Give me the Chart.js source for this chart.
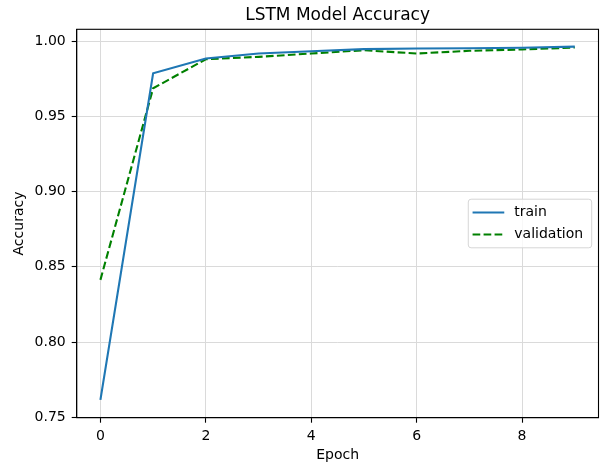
<!DOCTYPE html>
<html>
<head>
<meta charset="utf-8">
<script src="https://cdn.jsdelivr.net/npm/chart.js@4.4.1/dist/chart.umd.min.js"></script>
<style>
  html, body { margin: 0; padding: 0; background: #ffffff; }
  #wrap { width: 603px; height: 466px; }
</style>
</head>
<body>
<div id="wrap"><canvas id="c" width="603" height="466"></canvas></div>
<script>
// ---- data ----
const chartTitle = "LSTM Model Accuracy";
const xAxisTitle = "Epoch";
const yAxisTitle = "Accuracy";
const epochs = [0, 1, 2, 3, 4, 5, 6, 7, 8, 9];
const trainAcc = [0.7616, 0.9786, 0.9884, 0.9917, 0.9932, 0.9946, 0.9950, 0.9952, 0.9955, 0.9963];
const valAcc   = [0.8413, 0.9686, 0.9879, 0.9895, 0.9917, 0.9939, 0.9917, 0.9935, 0.9944, 0.9957];
const xTicks = [0, 2, 4, 6, 8];
const yTicks = [0.75, 0.80, 0.85, 0.90, 0.95, 1.00];
const seriesNames = ["train", "validation"];

const FONT = "'DejaVu Sans', sans-serif";

const toPoints = (xs, ys) => xs.map((x, i) => ({ x: x, y: ys[i] }));

// matplotlib-like frame (top/right spines)
const framePlugin = {
  id: 'frame',
  afterDatasetsDraw(chart) {
    const a = chart.chartArea, ctx = chart.ctx;
    ctx.save();
    ctx.strokeStyle = '#000';
    ctx.lineWidth = 1.1;
    ctx.strokeRect(a.left, a.top, a.right - a.left, a.bottom - a.top);
    ctx.restore();
  }
};

// matplotlib-like legend box inside the axes (center right)
const boxLegendPlugin = {
  id: 'boxLegend',
  afterDraw(chart) {
    const a = chart.chartArea, ctx = chart.ctx;
    const ds = chart.data.datasets;
    ctx.save();
    ctx.font = "14px " + FONT;
    let maxW = 0;
    ds.forEach(d => { maxW = Math.max(maxW, ctx.measureText(d.label).width); });
    const padL = 4.3, lineLen = 31.7, gap = 10.0, padR = 8.5;
    const rowH = 22.0, padV = 13.3;
    const w = padL + lineLen + gap + maxW + padR;
    const h = padV * 2 + rowH * (ds.length - 1);
    const right = a.right - 6.8;
    const left = right - w;
    const cy = (a.top + a.bottom) / 2;
    const top = cy - h / 2;
    // frame
    const r = 2.8;
    ctx.beginPath();
    ctx.moveTo(left + r, top);
    ctx.lineTo(left + w - r, top);
    ctx.arcTo(left + w, top, left + w, top + r, r);
    ctx.lineTo(left + w, top + h - r);
    ctx.arcTo(left + w, top + h, left + w - r, top + h, r);
    ctx.lineTo(left + r, top + h);
    ctx.arcTo(left, top + h, left, top + h - r, r);
    ctx.lineTo(left, top + r);
    ctx.arcTo(left, top, left + r, top, r);
    ctx.closePath();
    ctx.fillStyle = 'rgba(255,255,255,0.8)';
    ctx.fill();
    ctx.strokeStyle = '#d6d6d6';
    ctx.lineWidth = 1;
    ctx.stroke();
    // entries
    ds.forEach((d, i) => {
      const y = top + padV + i * rowH;
      ctx.beginPath();
      ctx.setLineDash(d.borderDash || []);
      ctx.strokeStyle = d.borderColor;
      ctx.lineWidth = d.borderWidth;
      ctx.moveTo(left + padL, y);
      ctx.lineTo(left + padL + lineLen, y);
      ctx.stroke();
      ctx.setLineDash([]);
      ctx.fillStyle = '#000';
      ctx.textBaseline = 'middle';
      ctx.textAlign = 'left';
      ctx.fillText(d.label, left + padL + lineLen + gap, y);
    });
    ctx.restore();
  }
};

new Chart(document.getElementById('c'), {
  type: 'line',
  data: {
    datasets: [
      {
        label: seriesNames[0],
        data: toPoints(epochs, trainAcc),
        borderColor: '#1f77b4',
        backgroundColor: '#1f77b4',
        borderWidth: 2.1,
        pointRadius: 0,
        tension: 0,
        fill: false
      },
      {
        label: seriesNames[1],
        data: toPoints(epochs, valAcc),
        borderColor: '#008000',
        backgroundColor: '#008000',
        borderWidth: 2.1,
        borderDash: [7.7, 3.3],
        pointRadius: 0,
        tension: 0,
        fill: false
      }
    ]
  },
  options: {
    responsive: false,
    animation: false,
    devicePixelRatio: 1,
    layout: { padding: { left: 0, right: 4.5, top: 0, bottom: 0 } },
    plugins: {
      legend: { display: false },
      tooltip: { enabled: false },
      title: {
        display: true,
        text: chartTitle,
        fullSize: false,
        color: '#000',
        font: { family: FONT, size: 17, weight: 'normal', lineHeight: 1.2 },
        padding: { top: 4.9, bottom: 4.0 }
      }
    },
    scales: {
      x: {
        type: 'linear',
        min: -0.45,
        max: 9.45,
        afterBuildTicks: (s) => { s.ticks = xTicks.map(v => ({ value: v })); },
        afterFit: (s) => { s.height = 48.3; },
        ticks: {
          color: '#000',
          font: { family: FONT, size: 14 },
          padding: 5.5,
          maxRotation: 0,
          callback: (v) => String(v)
        },
        grid: {
          color: '#dadada',
          lineWidth: 1,
          drawTicks: true,
          tickLength: 5,
          tickColor: '#000',
          tickWidth: 1.1
        },
        border: { display: true, color: '#000', width: 1.1 },
        title: {
          display: true,
          text: xAxisTitle,
          color: '#000',
          font: { family: FONT, size: 14, lineHeight: 1.2 },
          padding: { top: 2.0, bottom: 2.0 }
        }
      },
      y: {
        type: 'linear',
        min: 0.7497,
        max: 1.0078,
        afterBuildTicks: (s) => { s.ticks = yTicks.map(v => ({ value: v })); },
        afterFit: (s) => { s.width = 76.7; },
        ticks: {
          color: '#000',
          font: { family: FONT, size: 14 },
          padding: 6,
          callback: (v) => Number(v).toFixed(2)
        },
        grid: {
          color: '#dadada',
          lineWidth: 1,
          drawTicks: true,
          tickLength: 5,
          tickColor: '#000',
          tickWidth: 1.1
        },
        border: { display: true, color: '#000', width: 1.1 },
        title: {
          display: true,
          text: yAxisTitle,
          color: '#000',
          font: { family: FONT, size: 14, lineHeight: 1.2 },
          padding: { top: 11.2, bottom: 11.2 }
        }
      }
    }
  },
  plugins: [framePlugin, boxLegendPlugin]
});
</script>
</body>
</html>
